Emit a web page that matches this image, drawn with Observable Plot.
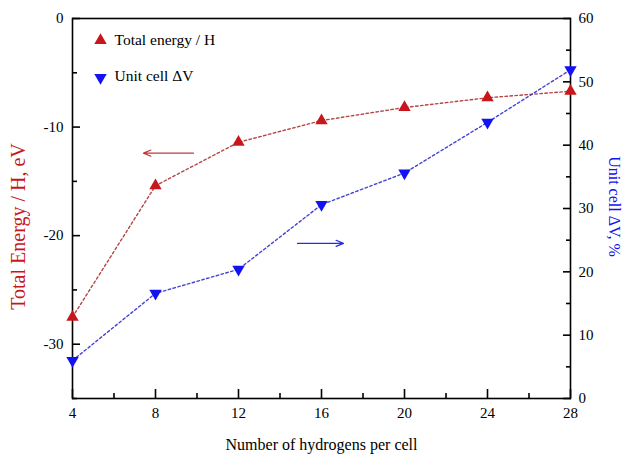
<!DOCTYPE html>
<html>
<head>
<meta charset="utf-8">
<script src="https://cdn.jsdelivr.net/npm/d3@7"></script>
<script src="https://cdn.jsdelivr.net/npm/@observablehq/plot@0.6"></script>
<style>
  html, body { margin: 0; padding: 0; background: #fff; }
  #chart { position: relative; width: 628px; height: 455px; }
  #chart svg { position: absolute; left: 0; top: 0; }
</style>
</head>
<body>
<div id="chart"></div>
<script>
// Hydrogen loading series
const hydrogens = [4, 8, 12, 16, 20, 24, 28];
const energyPerH = [-27.5, -15.4, -11.4, -9.4, -8.2, -7.3, -6.7];   // eV
const cellDeltaV = [6.0, 16.6, 20.4, 30.6, 35.6, 43.6, 51.9];       // %

// Tick values
const xMajor = [4, 8, 12, 16, 20, 24, 28];
const xMinor = [6, 10, 14, 18, 22, 26];
const energyMajor = [0, -10, -20, -30];
const energyMinor = [-5, -15, -25, -35];
const volumeMajor = [0, 10, 20, 30, 40, 50, 60];
const volumeMinor = [5, 15, 25, 35, 45, 55];

// Arrows pointing each series to its axis
const energyArrow = [{x1: 9.83, x2: 7.42, y: -12.4}];
const volumeArrow = [{x1: 14.84, x2: 17.06, y: 24.5}];

const energyRows = hydrogens.map((h, i) => ({h, v: energyPerH[i]}));
const volumeRows = hydrogens.map((h, i) => ({h, v: cellDeltaV[i]}));

const RED = "#c8161d", RED_LINE = "#b44646", BLUE = "#1212f2", BLUE_LINE = "#4343d6";
const font = {fontFamily: "'Liberation Serif', 'Times New Roman', serif", fontSize: "15px", background: "transparent", overflow: "visible"};
const layout = {width: 628, height: 455, marginLeft: 72, marginRight: 58, marginTop: 18, marginBottom: 57};
const blank = () => "";

const energyPlot = Plot.plot({
  ...layout,
  style: font,
  x: {domain: [4, 28]},
  y: {domain: [-35, 0]},
  marks: [
    Plot.axisX({ticks: xMajor, tickSize: 0, tickPadding: 9, label: null, tickFormat: d => d}),
    Plot.axisX({ticks: xMajor, tickSize: -9, tickFormat: blank, label: null, strokeWidth: 1.6}),
    Plot.axisX({ticks: xMinor, tickSize: -5, tickFormat: blank, label: null, strokeWidth: 1.6}),
    Plot.axisY({ticks: energyMajor, tickSize: 0, tickPadding: 9, label: null, tickFormat: d => d}),
    Plot.axisY({ticks: energyMajor, tickSize: -8, tickFormat: blank, label: null, strokeWidth: 1.6}),
    Plot.axisY({ticks: energyMinor, tickSize: -5, tickFormat: blank, label: null, strokeWidth: 1.6}),
    Plot.frame({stroke: "black", strokeWidth: 1.6}),
    Plot.line(energyRows, {x: "h", y: "v", stroke: RED_LINE, strokeWidth: 1.4, strokeDasharray: "2.5,2.5"}),
    Plot.dot(energyRows, {x: "h", y: "v", symbol: "triangle", r: 4.6, fill: RED, stroke: "none"}),
    Plot.arrow(energyArrow, {x1: "x1", x2: "x2", y1: "y", y2: "y", stroke: "#c23a3a", strokeWidth: 1.2, headLength: 10, headAngle: 45}),
    // legend
    Plot.dot([0], {frameAnchor: "top-left", dx: 28, dy: 22, symbol: "triangle", r: 4.6, fill: RED}),
    Plot.text(["Total energy / H"], {frameAnchor: "top-left", dx: 42, dy: 22, textAnchor: "start", lineAnchor: "middle", fill: "black", fontSize: 15.5}),
    Plot.dot([0], {frameAnchor: "top-left", dx: 28, dy: 59, symbol: "triangle", rotate: 180, r: 4.6, fill: BLUE}),
    Plot.text(["Unit cell ΔV"], {frameAnchor: "top-left", dx: 42, dy: 58, textAnchor: "start", lineAnchor: "middle", fill: "black", fontSize: 15.5}),
    // axis titles
    Plot.text(["Number of hydrogens per cell"], {frameAnchor: "bottom", dy: 46, textAnchor: "middle", lineAnchor: "middle", fill: "black", fontSize: 16}),
    Plot.text(["Total Energy / H, eV"], {frameAnchor: "left", dx: -54, dy: 18, rotate: -90, textAnchor: "middle", lineAnchor: "middle", fill: RED, fontSize: 20})
  ]
});

const volumePlot = Plot.plot({
  ...layout,
  style: font,
  x: {domain: [4, 28], axis: null},
  y: {domain: [0, 60], axis: null},
  marks: [
    Plot.axisY({anchor: "right", ticks: volumeMajor, tickSize: 0, tickPadding: 8, label: null, tickFormat: d => d}),
    Plot.axisY({anchor: "right", ticks: volumeMajor, tickSize: -8, tickFormat: blank, label: null, strokeWidth: 1.6}),
    Plot.axisY({anchor: "right", ticks: volumeMinor, tickSize: -5, tickFormat: blank, label: null, strokeWidth: 1.6}),
    Plot.line(volumeRows, {x: "h", y: "v", stroke: BLUE_LINE, strokeWidth: 1.4, strokeDasharray: "2.5,2.5"}),
    Plot.dot(volumeRows, {x: "h", y: "v", symbol: "triangle", rotate: 180, r: 4.6, fill: BLUE, stroke: "none"}),
    Plot.arrow(volumeArrow, {x1: "x1", x2: "x2", y1: "y", y2: "y", stroke: "#2a2aee", strokeWidth: 1.2, headLength: 10, headAngle: 45}),
    Plot.text(["Unit cell ΔV, %"], {frameAnchor: "right", dx: 44, dy: -2, rotate: 90, textAnchor: "middle", lineAnchor: "middle", fill: BLUE, fontSize: 16})
  ]
});

const chart = document.getElementById("chart");
chart.append(energyPlot, volumePlot);
</script>
</body>
</html>
